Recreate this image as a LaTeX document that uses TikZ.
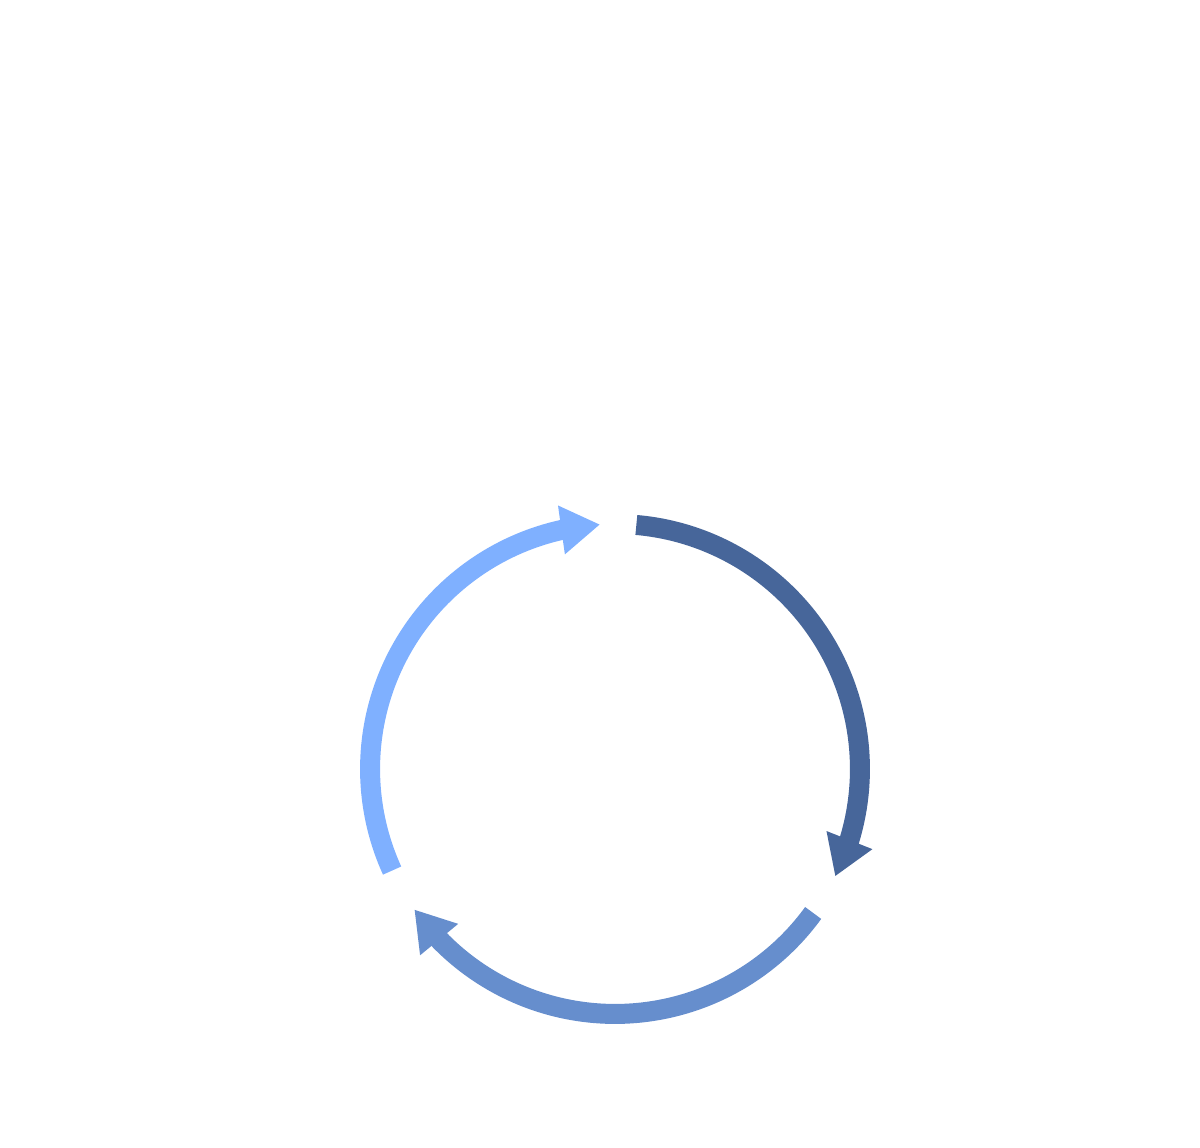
\documentclass[tikz,border=0pt]{standalone}
\usepackage{tikz}
\usetikzlibrary{arrows.meta}

\definecolor{cycledark}{HTML}{47669A}
\definecolor{cyclemid}{HTML}{668ECD}
\definecolor{cyclelight}{HTML}{7FB0FF}

\begin{document}
\begin{tikzpicture}[
    x=0.02cm, y=0.02cm,
    cyclearrow/.style={line width=0.4cm, -{Triangle[length=0.78cm, width=0.93cm]}}
]
    \useasboundingbox (0,0) rectangle (1200,1148);
    \coordinate (hub) at (615,379);

    % three arcs round the hub, each ends in a straight head
    \foreach \from/\to/\col [evaluate=\to as \neck using \to+9] in
        {85/-26/cycledark, -36/-145/cyclemid, 204.5/93.5/cyclelight} {
        \path (hub) ++(\to:4.9cm) coordinate (tip);
        \draw[cyclearrow, \col] (hub) ++(\from:4.9cm)
            arc[start angle=\from, end angle=\neck, radius=4.9cm] -- (tip);
    }
\end{tikzpicture}
\end{document}
